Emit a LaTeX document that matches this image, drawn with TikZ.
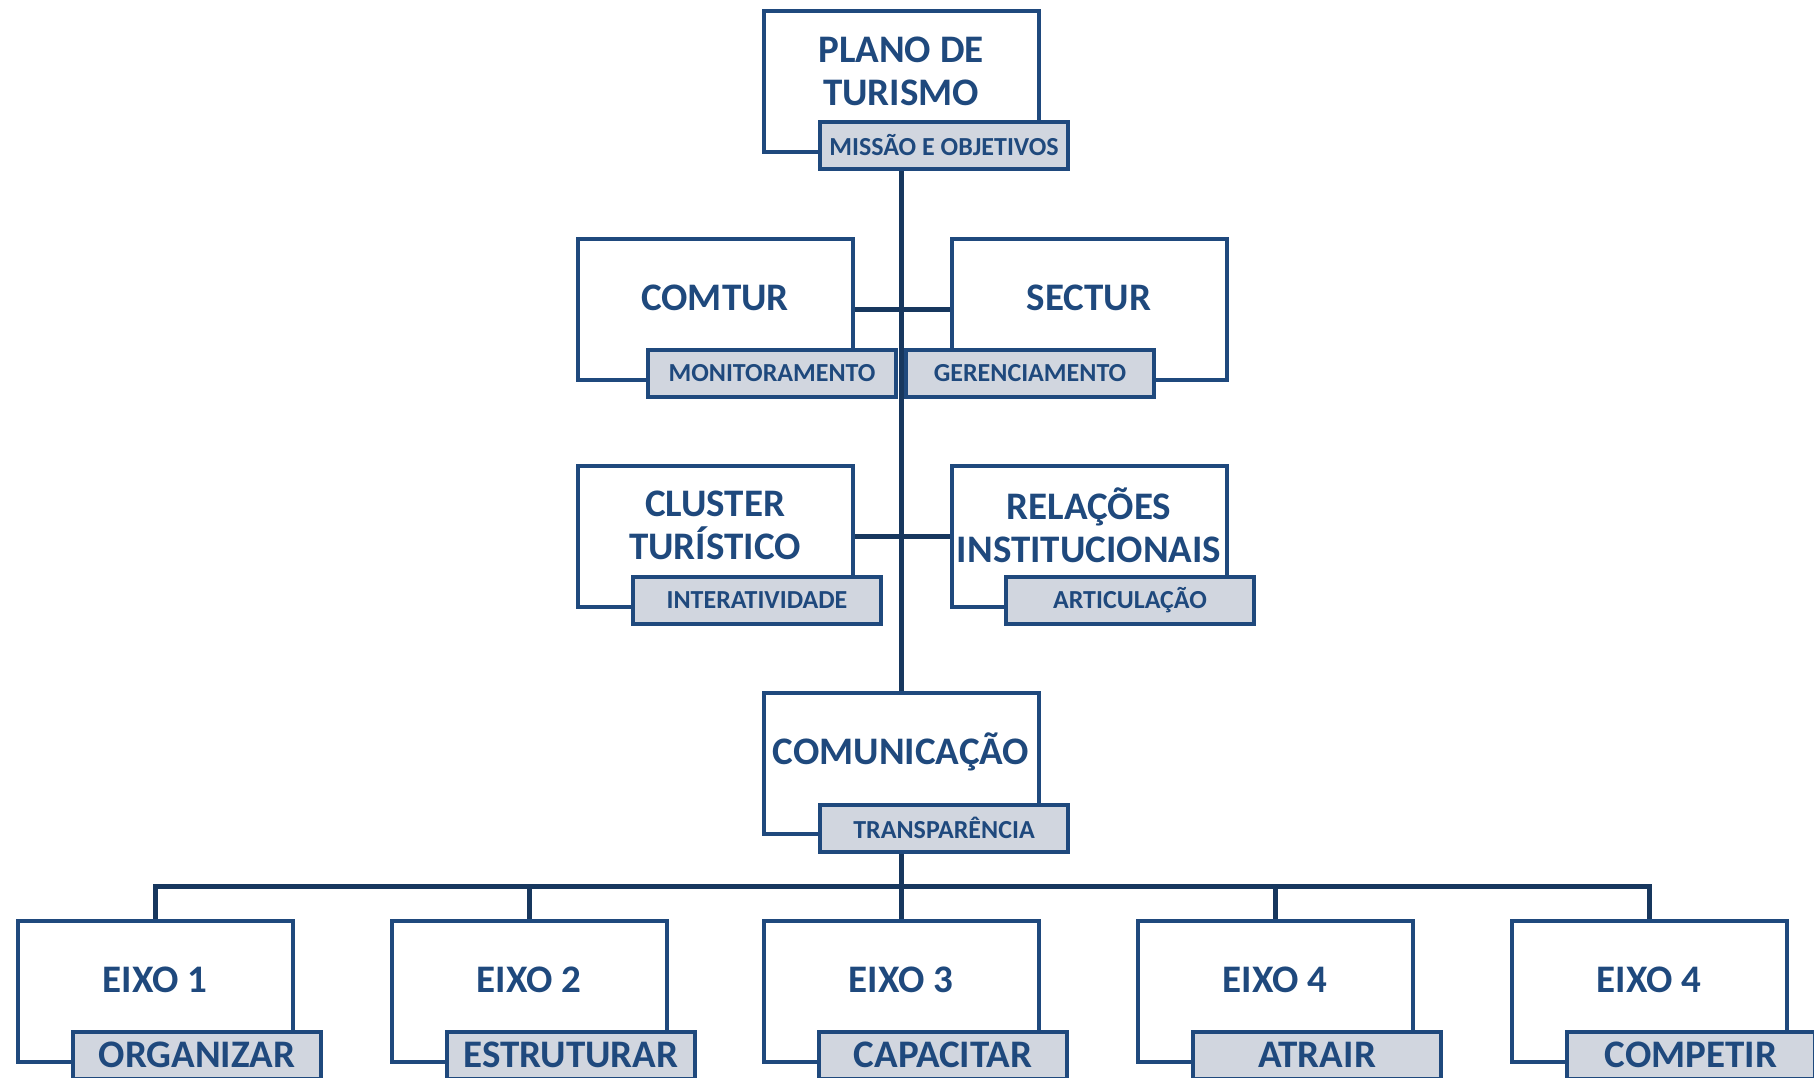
\documentclass[tikz,border=0pt]{standalone}
\usepackage{fontspec}
\setmainfont{Carlito}
\usetikzlibrary{backgrounds}
\definecolor{dblue}{HTML}{1F497D}
\definecolor{cblue}{HTML}{17375E}
\definecolor{lblfill}{HTML}{D1D6DF}
\begin{document}
\begin{tikzpicture}[x=1pt,y=-1pt,
  mainbox/.style={draw=dblue, line width=4pt, fill=white, minimum width=275pt, minimum height=141pt, inner sep=0pt},
  lbl/.style={draw=dblue, line width=4pt, fill=lblfill, minimum width=248pt, minimum height=47pt, inner sep=0pt, text=dblue, font=\bfseries\fontsize{26}{28}\selectfont},
  lblbig/.style={lbl, font=\bfseries\fontsize{39}{43}\selectfont},
  bigtxt/.style={text=dblue, font=\bfseries\fontsize{39}{43}\selectfont, align=center, inner sep=0pt},
  conn/.style={draw=cblue, line width=5pt}]
\useasboundingbox (0,0) rectangle (1814,1077);
% boxes
\node[mainbox] (plano) at (901,81) {};
\node[mainbox] (comtur) at (715,309) {};
\node[mainbox] (sectur) at (1089,309) {};
\node[mainbox] (cluster) at (715,536) {};
\node[mainbox] (relacoes) at (1089,536) {};
\node[mainbox] (comunic) at (901,763) {};
\node[mainbox] (eixo1) at (155,991) {};
\node[mainbox] (eixo2) at (529,991) {};
\node[mainbox] (eixo3) at (901,991) {};
\node[mainbox] (eixo4) at (1275,991) {};
\node[mainbox] (eixo5) at (1649,991) {};
% texts
\node[bigtxt] (tplano) at (901,71) {PLANO DE\\TURISMO};
\node[bigtxt] (tcomtur) at (715,298) {COMTUR};
\node[bigtxt] (tsectur) at (1089,298) {SECTUR};
\node[bigtxt] (tcluster) at (715,525) {CLUSTER\\TURÍSTICO};
\node[bigtxt] (trelacoes) at (1089,525) {RELAÇÕES\\INSTITUCIONAIS};
\node[bigtxt] (tcomunic) at (901,752) {COMUNICAÇÃO};
\node[bigtxt] (teixo1) at (155,980) {EIXO 1};
\node[bigtxt] (teixo2) at (529,980) {EIXO 2};
\node[bigtxt] (teixo3) at (901,980) {EIXO 3};
\node[bigtxt] (teixo4) at (1275,980) {EIXO 4};
\node[bigtxt] (teixo5) at (1649,980) {EIXO 4};
% labels
\node[lbl] (lplano) at (944,145) {MISSÃO E OBJETIVOS};
\node[lbl] (lcomtur) at (772,373) {MONITORAMENTO};
\node[lbl] (lsectur) at (1030,373) {GERENCIAMENTO};
\node[lbl] (lcluster) at (757,600) {INTERATIVIDADE};
\node[lbl] (lrelacoes) at (1130,600) {ARTICULAÇÃO};
\node[lbl] (lcomunic) at (944,828) {TRANSPARÊNCIA};
\node[lblbig] (leixo1) at (197,1055) {ORGANIZAR};
\node[lblbig] (leixo2) at (571,1055) {ESTRUTURAR};
\node[lblbig] (leixo3) at (943,1055) {CAPACITAR};
\node[lblbig] (leixo4) at (1317,1055) {ATRAIR};
\node[lblbig] (leixo5) at (1691,1055) {COMPETIR};
% connectors
\coordinate (bus) at (901,886);
\begin{scope}[on background layer]
\draw[conn] (plano.center) -- (comunic.center);
\draw[conn] (comtur.center) -- (sectur.center);
\draw[conn] (cluster.center) -- (relacoes.center);
\draw[conn] (comunic.center) -- (bus);
\draw[conn] (eixo1.center) |- (bus);
\draw[conn] (eixo2.center) |- (bus);
\draw[conn] (eixo3.center) -- (bus);
\draw[conn] (eixo4.center) |- (bus);
\draw[conn] (eixo5.center) |- (bus);
\end{scope}
\end{tikzpicture}
\end{document}
